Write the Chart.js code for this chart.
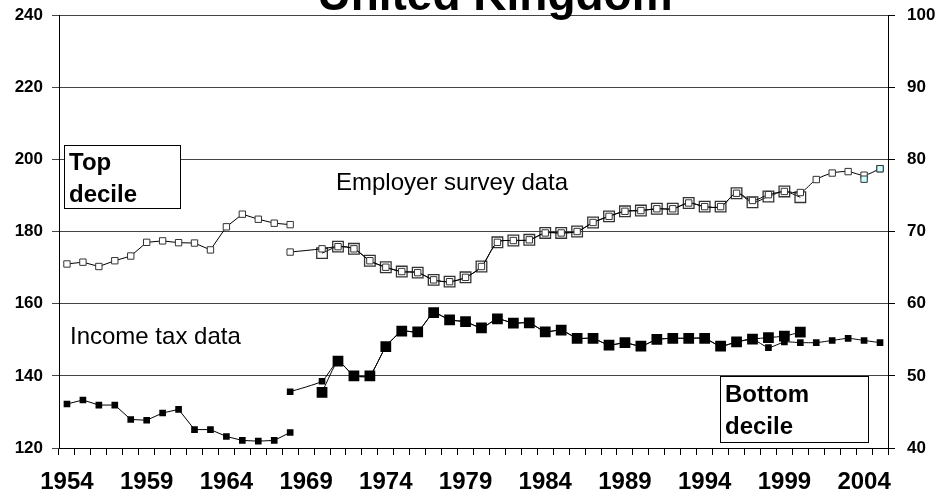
<!DOCTYPE html>
<html>
<head>
<meta charset="utf-8">
<script src="https://cdn.jsdelivr.net/npm/chart.js@4.4.1/dist/chart.umd.min.js"></script>
<style>
  html, body { margin: 0; padding: 0; background: #fff; }
  #wrap { width: 937px; height: 501px; }
</style>
</head>
<body>
<div id="wrap"><canvas id="c" width="937" height="501"></canvas></div>
<script>
const years = ['1954','1955','1956','1957','1958','1959','1960','1961','1962','1963',
  '1964','1965','1966','1967','1968','1969','1970','1971','1972','1973','1974','1975',
  '1976','1977','1978','1979','1980','1981','1982','1983','1984','1985','1986','1987',
  '1988','1989','1990','1991','1992','1993','1994','1995','1996','1997','1998','1999',
  '2000','2001','2002','2003','2004','2005'];
const labeledYears = ['1954','1959','1964','1969','1974','1979','1984','1989','1994','1999','2004'];

// Top decile, income tax data, 1954-1968
const topTax = [171.0,171.5,170.3,171.9,173.2,177.0,177.4,176.9,176.8,174.9,181.3,184.8,183.4,182.3,181.9];
// Top decile, employer survey (small markers), 1968-2005
const topNesSmall = [174.3,null,175.2,
  175.8,175.2,171.9,170.1,168.9,168.6,166.6,166.1,167.3,170.3,
  177.0,177.5,177.7,179.6,179.6,180.0,182.5,184.2,185.6,185.8,
  186.3,186.3,187.9,186.9,186.9,190.6,188.6,190.2,191.1,190.8,
  194.4,196.2,196.6,195.6,197.4];
// Top decile, employer survey (large markers), 1970-2000
const topNesLarge = [174.0,
  175.8,175.2,171.9,170.1,168.9,168.6,166.6,166.1,167.3,170.3,
  177.0,177.5,177.7,179.6,179.6,180.0,182.5,184.2,185.6,185.8,
  186.3,186.3,187.9,186.9,186.9,190.6,188.1,189.7,191.1,189.5];
// Top decile, new basis, 2004-2005
const topNesNew = [194.5,197.4];

// Bottom decile, income tax data, 1954-1968
const botTax = [132.2,133.3,131.9,131.9,127.9,127.7,129.7,130.7,125.1,125.1,123.2,122.1,121.9,122.1,124.3];
// Bottom decile, employer survey (small markers), 1968-2005
const botNesSmall = [135.6,null,138.5,
  144.1,140.0,140.0,148.1,152.4,152.2,157.5,155.5,155.0,153.3,
  155.8,154.6,154.7,152.2,152.7,150.4,150.4,148.5,149.2,148.2,
  150.1,150.4,150.4,150.4,148.2,149.4,150.2,147.8,149.4,149.2,
  149.2,149.8,150.4,149.8,149.2];
// Bottom decile, employer survey (large markers), 1970-2000
const botNesLarge = [135.4,
  144.1,140.0,140.0,148.1,152.4,152.2,157.5,155.5,155.0,153.3,
  155.8,154.6,154.7,152.2,152.7,150.4,150.4,148.5,149.2,148.2,
  150.1,150.4,150.4,150.4,148.2,149.4,150.2,150.6,151.0,152.1];

const leftTicks = [120,140,160,180,200,220,240];
const rightTicks = [40,50,60,70,80,90,100];

function series(startYear, values) {
  return values.map((v, i) => ({ x: String(startYear + i), y: v }));
}

const FONT = "'Liberation Sans', Arial, Helvetica, sans-serif";

const annotPlugin = {
  id: 'annot',
  afterDraw(chart) {
    const ctx = chart.ctx;
    ctx.save();
    ctx.fillStyle = '#000';
    ctx.textAlign = 'center';
    ctx.textBaseline = 'alphabetic';
    ctx.font = "bold 46px " + FONT;
    ctx.fillText('United Kingdom', 495, 10);

    ctx.textAlign = 'left';
    ctx.font = "24px " + FONT;
    ctx.fillText('Employer survey data', 336, 190);
    ctx.fillText('Income tax data', 70, 344);

    ctx.strokeStyle = '#000';
    ctx.lineWidth = 1;
    ctx.fillStyle = '#fff';
    ctx.fillRect(64.5, 145.5, 116, 63);
    ctx.strokeRect(64.5, 145.5, 116, 63);
    ctx.fillRect(720.5, 376.5, 148, 66);
    ctx.strokeRect(720.5, 376.5, 148, 66);

    ctx.fillStyle = '#000';
    ctx.font = "bold 24px " + FONT;
    ctx.fillText('Top', 69, 170);
    ctx.fillText('decile', 69, 202);
    ctx.fillText('Bottom', 725, 402);
    ctx.fillText('decile', 725, 434);
    ctx.restore();
  }
};

const openSmall = { pointStyle: 'rect', pointRadius: 4.5, pointBorderWidth: 1,
  pointBorderColor: '#333', pointBackgroundColor: '#fff', borderColor: '#000', borderWidth: 1 };
const openLarge = { pointStyle: 'rect', pointRadius: 7.5, pointBorderWidth: 1.3,
  pointBorderColor: '#333', pointBackgroundColor: 'rgba(0,0,0,0)', borderColor: '#000', borderWidth: 1 };
const filledSmall = { pointStyle: 'rect', pointRadius: 4.7, pointBorderWidth: 0,
  pointBorderColor: '#000', pointBackgroundColor: '#000', borderColor: '#000', borderWidth: 1 };
const filledLarge = { pointStyle: 'rect', pointRadius: 7.6, pointBorderWidth: 0,
  pointBorderColor: '#000', pointBackgroundColor: '#000', borderColor: '#000', borderWidth: 1 };

function noPad(s) { s.paddingTop = 0; s.paddingBottom = 0; s.paddingLeft = 0; s.paddingRight = 0; }

new Chart(document.getElementById('c'), {
  type: 'line',
  data: {
    labels: years,
    datasets: [
      Object.assign({ label: 'Top new', data: series(2004, topNesNew), showLine: false, order: 0 },
        openSmall, { pointBackgroundColor: '#ccffff' }),
      Object.assign({ label: 'Top NES small', data: series(1968, topNesSmall), spanGaps: true, tension: 0.3, order: 1 }, openSmall),
      Object.assign({ label: 'Top NES large', data: series(1970, topNesLarge), tension: 0.3, order: 2 }, openLarge),
      Object.assign({ label: 'Top tax', data: series(1954, topTax), order: 3 }, openSmall),
      Object.assign({ label: 'Bottom NES large', data: series(1970, botNesLarge), tension: 0.15, order: 4 }, filledLarge),
      Object.assign({ label: 'Bottom NES small', data: series(1968, botNesSmall), spanGaps: true, tension: 0.15, order: 5 }, filledSmall),
      Object.assign({ label: 'Bottom tax', data: series(1954, botTax), order: 6 }, filledSmall)
    ]
  },
  options: {
    responsive: false,
    animation: false,
    events: [],
    layout: { padding: { top: 15, left: 0, right: 0, bottom: 0 } },
    plugins: { legend: { display: false }, tooltip: { enabled: false }, title: { display: false } },
    scales: {
      x: {
        type: 'category',
        offset: true,
        grid: { offset: true, drawOnChartArea: false, drawTicks: true, tickLength: 7, color: '#000', lineWidth: 1 },
        border: { display: true, color: '#000', width: 1 },
        ticks: {
          autoSkip: false, maxRotation: 0, minRotation: 0, padding: 13,
          color: '#000', font: { family: FONT, size: 24, weight: 'bold' },
          callback(value) { const l = this.getLabelForValue(value); return labeledYears.includes(l) ? l : ''; }
        },
        afterFit(s) { s.height = 53; noPad(s); }
      },
      y: {
        position: 'left', min: 120, max: 240,
        afterBuildTicks(s) { s.ticks = leftTicks.map(v => ({ value: v })); },
        grid: { color: '#444', lineWidth: 1, tickLength: 7, drawTicks: true },
        border: { display: true, color: '#000', width: 1 },
        ticks: { padding: 9, color: '#000', font: { family: FONT, size: 17, weight: 'bold' } },
        afterFit(s) { s.width = 59; noPad(s); }
      },
      y2: {
        position: 'right', min: 40, max: 100,
        afterBuildTicks(s) { s.ticks = rightTicks.map(v => ({ value: v })); },
        grid: { drawOnChartArea: false, color: '#000', tickLength: 7, drawTicks: true },
        border: { display: true, color: '#000', width: 1 },
        ticks: { padding: 12, color: '#000', font: { family: FONT, size: 17, weight: 'bold' } },
        afterFit(s) { s.width = 49; noPad(s); }
      }
    }
  },
  plugins: [annotPlugin]
});
</script>
</body>
</html>
